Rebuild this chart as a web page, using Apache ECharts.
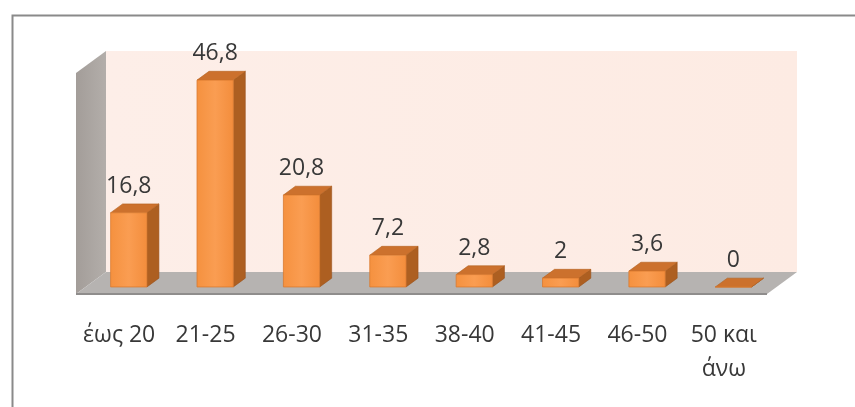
<!DOCTYPE html>
<html>
<head>
<meta charset="utf-8">
<script src="https://cdn.jsdelivr.net/npm/echarts@6/dist/echarts.min.js"></script>
<style>
  html, body { margin: 0; padding: 0; background: #fff; }
  #chart { width: 855px; height: 407px; }
</style>
</head>
<body>
<div id="chart"></div>
<script>
// data
const categories = ['έως 20', '21-25', '26-30', '31-35', '38-40', '41-45', '46-50', '50 και\nάνω']
const values = [16.8, 46.8, 20.8, 7.2, 2.8, 2, 3.6, 0]
const yMin = 0
const yMax = 50

const FONT = 'Open Sans'
const TEXT = '#383838'
const DEPTH = [30, -22] // floor depth, px
const BAR_FRONT = 0.32 // bar front plane, as a share of the depth
const BAR_BACK = 0.72

const chart = echarts.init(document.getElementById('chart'))

const fmt = (v) => String(v).replace('.', ',')

// walls + floor, drawn from the grid rect
const renderScene = (params, api) => {
  const cs = params.coordSys
  const x0 = cs.x
  const x1 = cs.x + cs.width
  const yt = cs.y
  const yb = cs.y + cs.height
  const [dx, dy] = DEPTH
  return {
    type: 'group',
    children: [
      {
        type: 'polygon',
        shape: { points: [[x0 + dx, yt + dy], [x1 + dx, yt + dy], [x1 + dx, yb + dy], [x0 + dx, yb + dy]] },
        style: {
          fill: new echarts.graphic.LinearGradient(0, 0, 1, 0, [
            { offset: 0, color: '#fdeee8' },
            { offset: 1, color: '#fdebe3' },
          ]),
        },
      },
      {
        type: 'polygon',
        shape: { points: [[x0, yt], [x0 + dx, yt + dy], [x0 + dx, yb + dy], [x0, yb]] },
        style: {
          fill: new echarts.graphic.LinearGradient(0, 0, 1, 0, [
            { offset: 0, color: '#a39d99' },
            { offset: 1, color: '#b3aeaa' },
          ]),
        },
      },
      {
        type: 'polygon',
        shape: { points: [[x0, yb], [x1, yb], [x1 + dx, yb + dy], [x0 + dx, yb + dy]] },
        style: { fill: '#b6b3b1' },
      },
      {
        type: 'line',
        shape: { x1: x0, y1: yb, x2: x1, y2: yb },
        style: { stroke: '#8f8d8c', lineWidth: 2 },
      },
    ],
  }
}

const renderBar = (params, api) => {
  const xv = api.value(0)
  const yv = api.value(1)
  const base = api.coord([xv, 0])
  const top = api.coord([xv, yv])
  const bw = api.size([1, 0])[0] * 0.42
  const ox = DEPTH[0] * BAR_FRONT
  const oy = DEPTH[1] * BAR_FRONT
  const bdx = DEPTH[0] * (BAR_BACK - BAR_FRONT)
  const bdy = DEPTH[1] * (BAR_BACK - BAR_FRONT)
  const fl = base[0] - bw / 2 + ox
  const fr = base[0] + bw / 2 + ox
  const fb = base[1] + oy
  const ft = top[1] + oy
  return {
    type: 'group',
    children: [
      {
        type: 'polygon',
        shape: { points: [[fr, ft], [fr + bdx, ft + bdy], [fr + bdx, fb + bdy], [fr, fb]] },
        style: { fill: '#ad5f21', stroke: '#9a531c', lineWidth: 0.6 },
      },
      {
        type: 'polygon',
        shape: { points: [[fl, ft], [fr, ft], [fr + bdx, ft + bdy], [fl + bdx, ft + bdy]] },
        style: { fill: '#cc712d', stroke: '#b3621f', lineWidth: 0.6 },
      },
      {
        type: 'rect',
        shape: { x: fl, y: ft, width: fr - fl, height: fb - ft },
        style: {
          fill: new echarts.graphic.LinearGradient(0, 0, 1, 0, [
            { offset: 0, color: '#f5913f' },
            { offset: 0.5, color: '#fa9d52' },
            { offset: 1, color: '#f38d3c' },
          ]),
          stroke: '#d97a30',
          lineWidth: 0.8,
        },
      },
      {
        type: 'text',
        x: (fl + fr) / 2,
        y: ft + bdy - 6,
        style: {
          text: fmt(yv),
          fill: TEXT,
          font: `23px "${FONT}"`,
          align: 'center',
          verticalAlign: 'bottom',
        },
      },
    ],
  }
}

chart.setOption({
  animation: false,
  graphic: [
    {
      type: 'rect',
      left: 10,
      top: 13,
      shape: { width: 900, height: 450 },
      style: { fill: 'none', stroke: '#8a8a8a', lineWidth: 2 },
      z: 10,
    },
  ],
  grid: { left: 76, right: 88, top: 73, bottom: 113 },
  xAxis: {
    type: 'category',
    data: categories,
    axisLine: { show: false },
    axisTick: { show: false },
    axisLabel: {
      interval: 0,
      margin: 24,
      lineHeight: 34,
      fontSize: 23,
      fontFamily: FONT,
      color: TEXT,
    },
  },
  yAxis: {
    type: 'value',
    min: yMin,
    max: yMax,
    show: false,
  },
  series: [
    {
      type: 'custom',
      renderItem: renderScene,
      data: [[0, 0]],
      silent: true,
      z: 1,
    },
    {
      type: 'custom',
      renderItem: renderBar,
      data: values.map((v, i) => [i, v]),
      z: 2,
    },
  ],
})

window.addEventListener('resize', () => chart.resize())
</script>
</body>
</html>
